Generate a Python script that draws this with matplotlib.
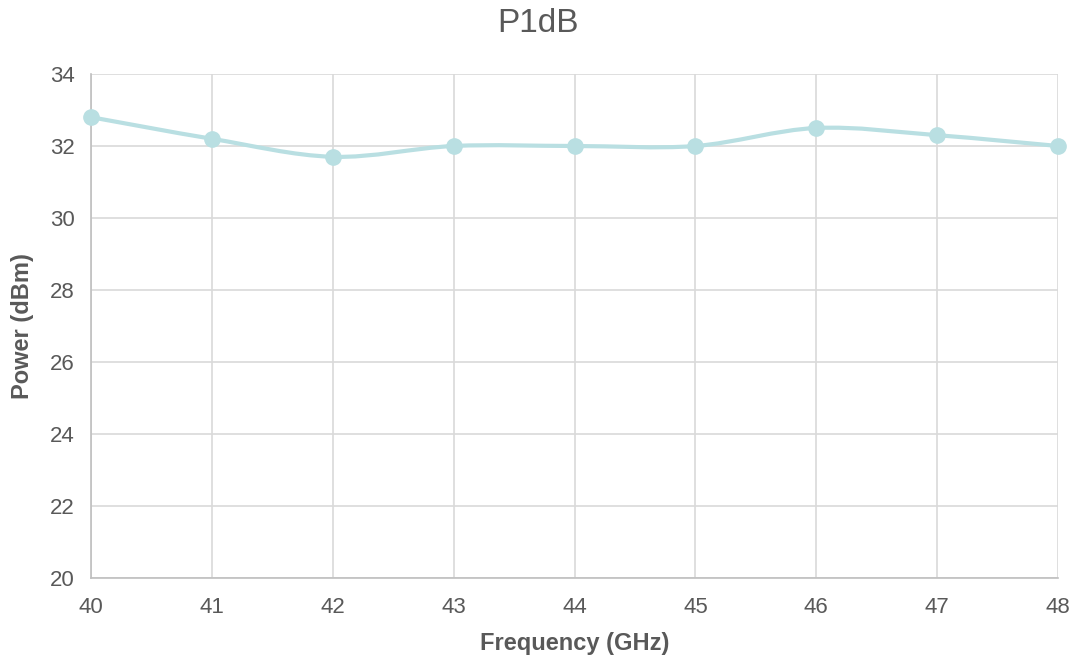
from matplotlib import pyplot as plt
from matplotlib.path import Path
from matplotlib.patches import PathPatch
import numpy as np

plt.rcParams['font.family'] = ['Liberation Sans', 'DejaVu Sans']

# data
freq = [40, 41, 42, 43, 44, 45, 46, 47, 48]
power = [32.8, 32.2, 31.7, 32.0, 32.0, 32.0, 32.5, 32.3, 32.0]

LINE_COLOR = '#B9DFE2'
TEXT_COLOR = '#595959'

fig = plt.figure(figsize=(10.76, 6.63), dpi=100)
ax = fig.add_axes([0.0846, 0.1282, 0.8987, 0.7602])

# smoothed line, excel-like bezier through the points
x = np.array(freq, dtype=float)
y = np.array(power, dtype=float)
verts = [(x[0], y[0])]
codes = [Path.MOVETO]
n = len(x)
for i in range(n - 1):
    x0, y0 = (x[i - 1], y[i - 1]) if i > 0 else (x[i], y[i])
    x3, y3 = (x[i + 2], y[i + 2]) if i + 2 < n else (x[i + 1], y[i + 1])
    c1 = (x[i] + (x[i + 1] - x0) / 6, y[i] + (y[i + 1] - y0) / 6)
    c2 = (x[i + 1] - (x3 - x[i]) / 6, y[i + 1] - (y3 - y[i]) / 6)
    verts += [c1, c2, (x[i + 1], y[i + 1])]
    codes += [Path.CURVE4] * 3
ax.add_patch(PathPatch(Path(verts, codes), fill=False, edgecolor=LINE_COLOR,
                       lw=3, capstyle='round', zorder=3, clip_on=False))
ax.plot(freq, power, 'o', color=LINE_COLOR, ms=11, zorder=4, clip_on=False)

ax.set_xlim(40, 48)
ax.set_ylim(20, 34)
ax.set_xticks(freq)
ax.set_yticks(range(20, 35, 2))
ax.grid(True, color='#D9D9D9', lw=1.2)
ax.set_axisbelow(True)
for s in ['top', 'right']:
    ax.spines[s].set_visible(False)
for s in ['left', 'bottom']:
    ax.spines[s].set_color('#BFBFBF')
    ax.spines[s].set_linewidth(1.2)
ax.tick_params(axis='both', length=0, labelsize=16, colors=TEXT_COLOR)
ax.tick_params(axis='x', pad=14)
ax.tick_params(axis='y', pad=12)

# title is centred on the whole figure, not the plot area
fig.text(0.5, 0.965, 'P1dB', fontsize=24, color=TEXT_COLOR, ha='center', va='center')
ax.set_xlabel('Frequency (GHz)', fontsize=17, fontweight='bold', color=TEXT_COLOR, labelpad=10)
ax.set_ylabel('Power (dBm)', fontsize=17, fontweight='bold', color=TEXT_COLOR, labelpad=11)

plt.savefig('out.png', dpi=100)
